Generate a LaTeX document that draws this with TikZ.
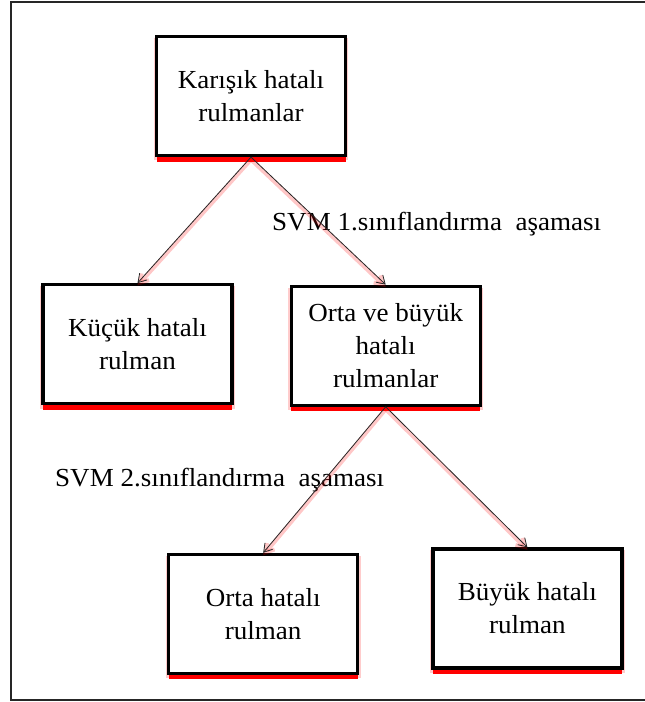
\documentclass[tikz,border=0pt]{standalone}
\usepackage{fontspec}
\setmainfont{Liberation Serif}[FakeStretch=1.04]
\usepackage{tikz}
\usetikzlibrary{arrows.meta, positioning, shadows}

\begin{document}
\begin{tikzpicture}[
    x=1pt, y=-1pt,
    box/.style={rectangle, draw=black, line width=3.2pt, fill=white, minimum width=189pt, minimum height=119pt, align=center, font=\fontsize{26}{33}\selectfont, general shadow={fill=red, opacity=0.2, shadow scale=1.03, shadow yshift=-3pt}, general shadow={fill=red, shadow xshift=0pt, shadow yshift=-6pt}},
    arrow/.style={-{Straight Barb[length=8pt, width=10pt]}, line width=0.8pt, color=black!85, preaction={draw=red, opacity=0.22, line width=4pt, transform canvas={yshift=-2.5pt}}},
    stage/.style={anchor=base west, font=\fontsize{26}{28}\selectfont, inner sep=0pt},
    frame/.style={draw=black!85, line width=2.6pt},
]
\useasboundingbox (0,0) rectangle (645,702);

% ── Outer frame (open to the right) ──
\draw[frame] (660,2) -- (11,2) -- (11,700) -- (660,700);

% ── Boxes ──
\node[box] (mixed) at (251,96) {Karışık hatalı\\rulmanlar};
\node[box, below=126pt of mixed, xshift=-113.5pt] (small) {Küçük hatalı\\rulman};
\node[box, right=56pt of small, yshift=-1.5pt] (midlarge) {Orta ve büyük\\hatalı\\rulmanlar};
\node[box, below=146pt of midlarge, xshift=-122.5pt] (mid) {Orta hatalı\\rulman};
\node[box, right=72pt of mid, yshift=5.5pt] (large) {Büyük hatalı\\rulman};

% ── Stage labels ──
\node[stage] (stage1) at (272,230) {SVM 1.sınıflandırma\ \ aşaması};
\node[stage] (stage2) at (55,486) {SVM 2.sınıflandırma\ \ aşaması};

% ── Arrows ──
\draw[arrow] (mixed.south) -- (small.north);
\draw[arrow] (mixed.south) -- (midlarge.north);
\draw[arrow] (midlarge.south) -- (mid.north);
\draw[arrow] (midlarge.south) -- (large.north);

\end{tikzpicture}
\end{document}
